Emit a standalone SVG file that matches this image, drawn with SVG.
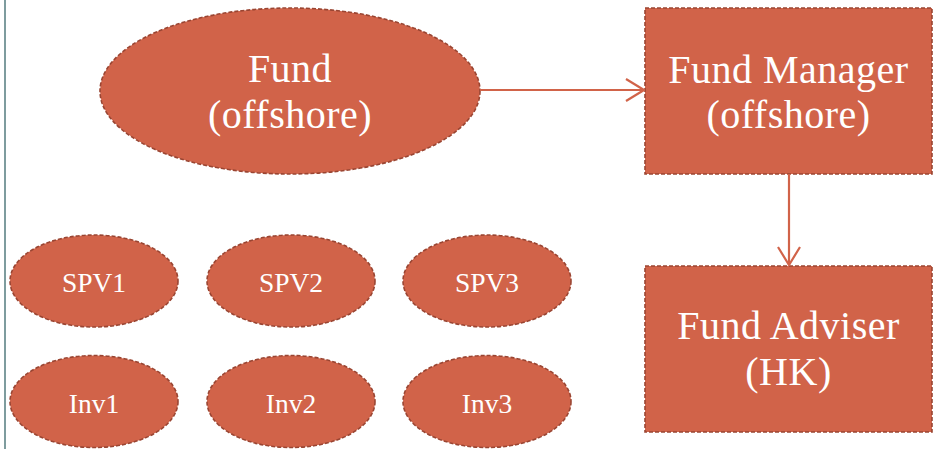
<svg xmlns="http://www.w3.org/2000/svg" width="933" height="449" viewBox="0 0 933 449">
  <defs>
    <style>
      .node { fill: #D16349; stroke: #9A4532; stroke-width: 1.6; stroke-dasharray: 4 2; }
      .big { font-family: "Liberation Serif", "DejaVu Serif", serif; font-size: 40px; letter-spacing: 0.5px; fill: #FFFFFF; text-anchor: middle; }
      .small { font-family: "Liberation Serif", "DejaVu Serif", serif; font-size: 27.5px; fill: #FFFFFF; text-anchor: middle; }
      .conn { fill: none; stroke: #D16349; stroke-width: 2.2; }
    </style>
    <marker id="open" viewBox="0 0 20 24" refX="19" refY="12" markerWidth="20" markerHeight="24" markerUnits="userSpaceOnUse" orient="auto">
      <path d="M1,1 L19,12 L1,23" fill="none" stroke="#D16349" stroke-width="2.2"/>
    </marker>
  </defs>
  <rect x="0" y="0" width="933" height="449" fill="#FFFFFF"/>
  <line x1="5" y1="0" x2="5" y2="449" stroke="#7E9C9E" stroke-width="2"/>

  <g id="fund">
    <ellipse class="node" cx="290" cy="91" rx="190" ry="83"/>
    <text class="big" x="290" y="82">Fund</text>
    <text class="big" x="290" y="128">(offshore)</text>
  </g>
  <g id="fund-manager">
    <rect class="node" x="645" y="8" width="287" height="166"/>
    <text class="big" x="788.5" y="83">Fund Manager</text>
    <text class="big" x="788.5" y="128">(offshore)</text>
  </g>
  <g id="fund-adviser">
    <rect class="node" x="645" y="266" width="287" height="166"/>
    <text class="big" x="788.5" y="339">Fund Adviser</text>
    <text class="big" x="788.5" y="385">(HK)</text>
  </g>
  <g id="spv1">
    <ellipse class="node" cx="94" cy="281" rx="84" ry="46"/>
    <text class="small" x="94" y="292">SPV1</text>
  </g>
  <g id="spv2">
    <ellipse class="node" cx="291" cy="281" rx="84" ry="46"/>
    <text class="small" x="291" y="292">SPV2</text>
  </g>
  <g id="spv3">
    <ellipse class="node" cx="487" cy="281" rx="84" ry="46"/>
    <text class="small" x="487" y="292">SPV3</text>
  </g>
  <g id="inv1">
    <ellipse class="node" cx="94" cy="401.5" rx="84" ry="46"/>
    <text class="small" x="94" y="413">Inv1</text>
  </g>
  <g id="inv2">
    <ellipse class="node" cx="291" cy="401.5" rx="84" ry="46"/>
    <text class="small" x="291" y="413">Inv2</text>
  </g>
  <g id="inv3">
    <ellipse class="node" cx="487" cy="401.5" rx="84" ry="46"/>
    <text class="small" x="487" y="413">Inv3</text>
  </g>

  <g id="connectors">
    <line class="conn" x1="480" y1="90" x2="644" y2="90" marker-end="url(#open)"/>
    <line class="conn" x1="789" y1="174" x2="789" y2="265" marker-end="url(#open)"/>
  </g>
</svg>
